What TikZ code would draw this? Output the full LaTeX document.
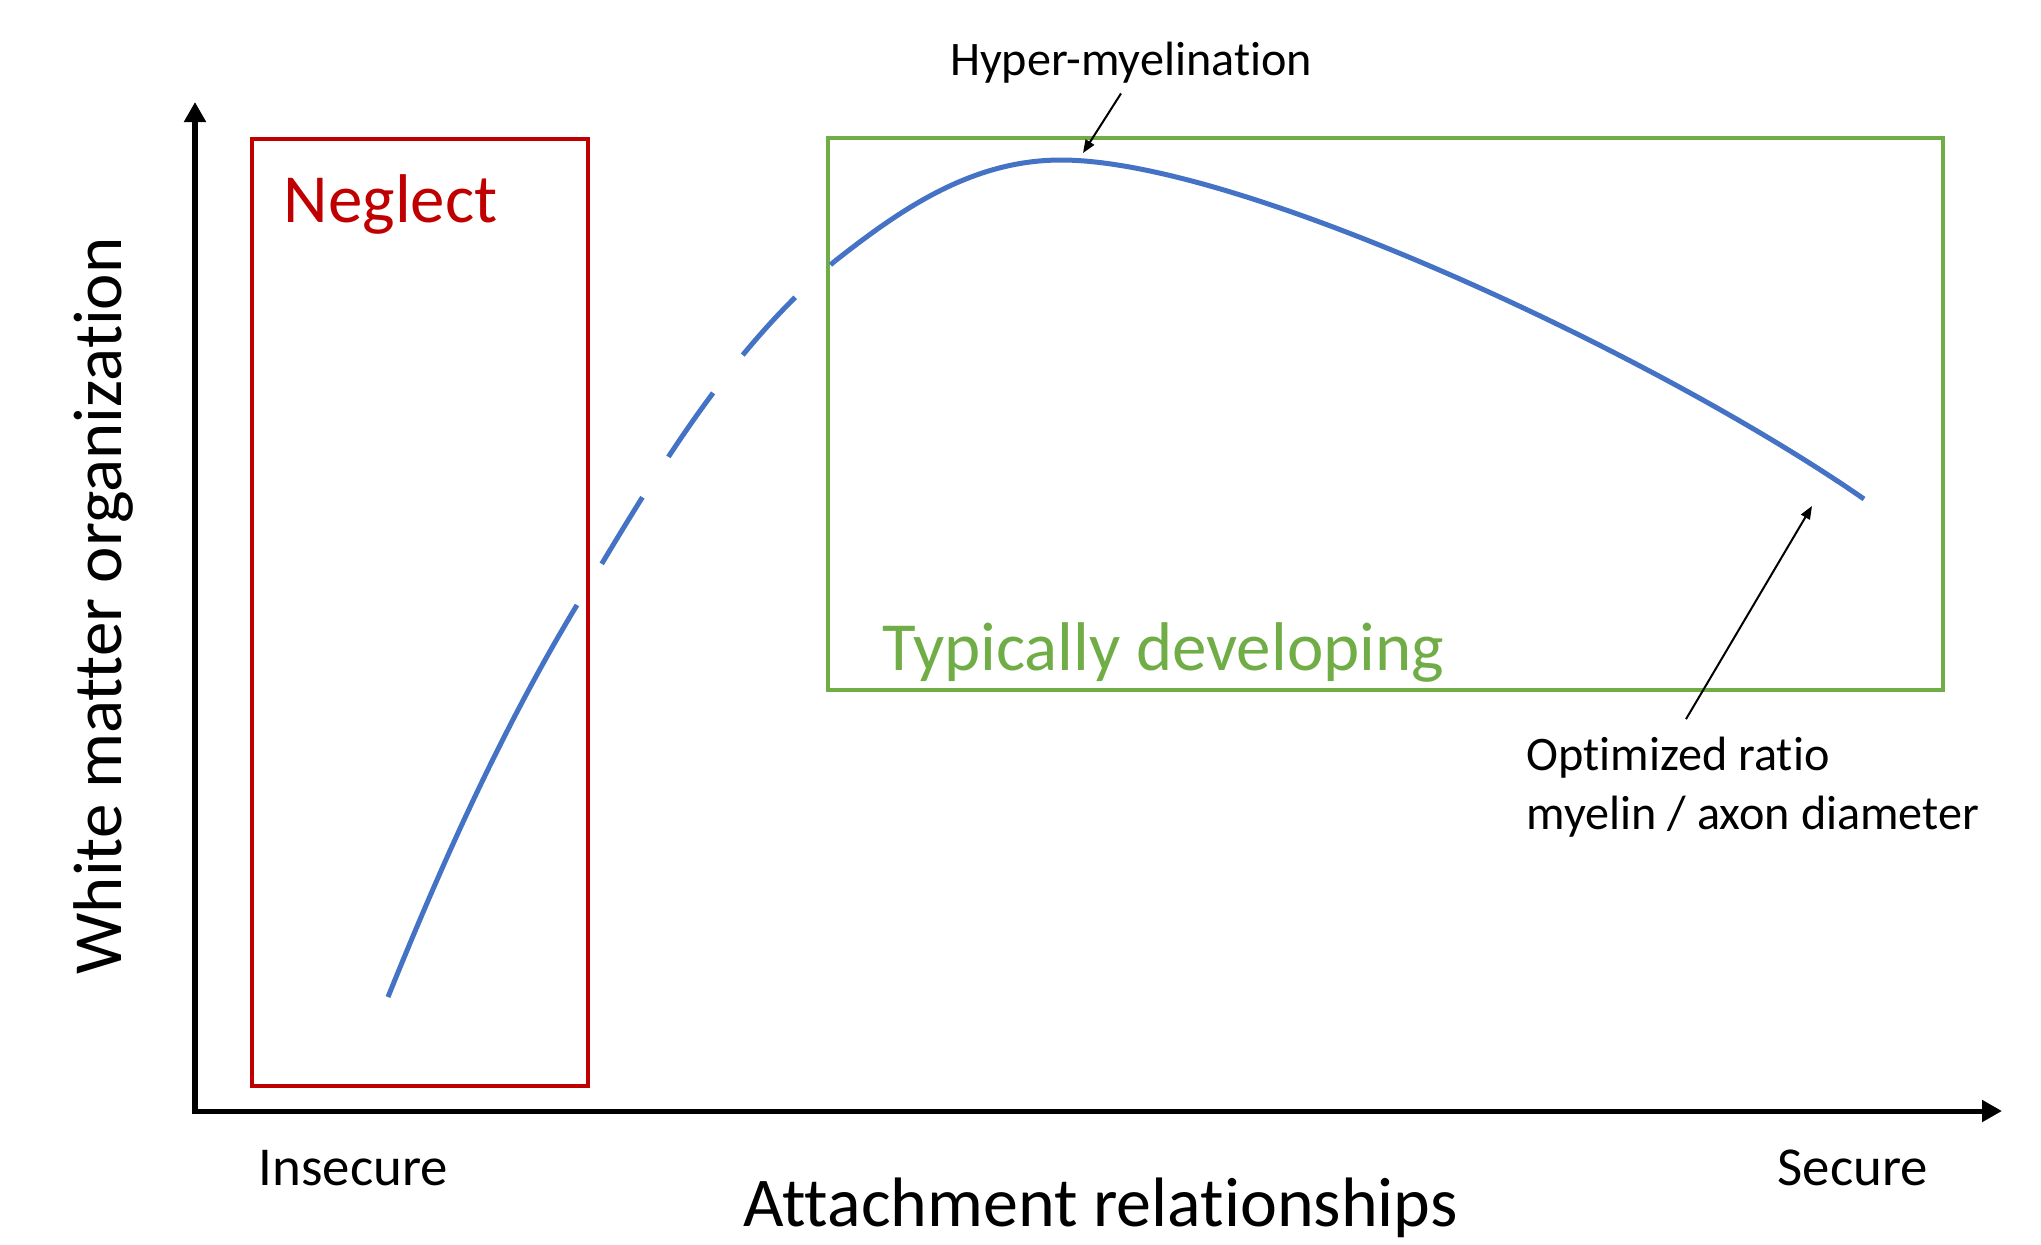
\documentclass[tikz,border=0pt]{standalone}
\usepackage{fontspec}
\setmainfont{Carlito}[Ligatures=NoCommon]
\usetikzlibrary{arrows.meta,calc}

\definecolor{neglectred}{HTML}{C00000}
\definecolor{typgreen}{HTML}{70AD47}
\definecolor{curveblue}{HTML}{4472C4}

\begin{document}
\begin{tikzpicture}[x=0.01cm, y=-0.01cm,
    bigtext/.style={inner sep=0, font=\fontsize{19.6}{23.5}\selectfont},
    ticktext/.style={inner sep=0, font=\fontsize{15.6}{18.7}\selectfont},
    notetext/.style={inner sep=0, font=\fontsize{13.7}{16.7}\selectfont, align=left},
    axisline/.style={line width=0.05cm, {Triangle[length=0.2cm,width=0.21cm]}-{Triangle[length=0.2cm,width=0.21cm]}},
    pointer/.style={line width=0.02cm, -{Triangle[length=0.13cm,width=0.1cm]}},
    bluecurve/.style={curveblue, line width=0.05cm},
    dashedpart/.style={dash pattern=on 0.78cm off 0.48cm, dash phase=0.78cm}]
    \useasboundingbox (0,0) rectangle (2041,1244);

    % axes
    \coordinate (ytop) at (195,102);
    \coordinate (origin) at (195,1111);
    \coordinate (xend) at (2002,1111);
    \draw [axisline] (ytop) -- (origin) -- (xend);

    % groups
    \draw [neglectred, line width=0.04cm] (252,139) rectangle (588,1086);
    \draw [typgreen, line width=0.035cm] (828,138) rectangle (1943,690);
    \node [bigtext, text=neglectred, anchor=base west] (neglect) at (283,222) {Neglect};
    \node [bigtext, text=typgreen, anchor=base west] (typical) at (882,670) {Typically developing};

    % curve
    \coordinate (c0) at (388,997);
    \coordinate (c1) at (577,605);
    \coordinate (c2) at (835,261);
    \coordinate (peak) at (1061,160);
    \coordinate (cend) at (1864,499);
    \draw [bluecurve] (c0) .. controls (442,863) and (502,729) .. (c1);
    \draw [bluecurve, dashedpart] (c1) .. controls (651,482) and (725,353) .. (c2);
    \draw [bluecurve] (c2) .. controls (900,210) and (971,160) .. (peak)
        .. controls (1241,160) and (1658,356) .. (cend);

    % notes
    \node [notetext, anchor=base] (hyp) at (1131,75) {Hyper-myelination};
    \coordinate (hyptip) at (1083,153);
    \draw [pointer] ($(hyp.south)+(-10,10)$) -- (hyptip);
    \node [notetext, anchor=base west] (opt) at (1526,829) {Optimized ratio\\myelin / axon diameter};
    \coordinate (opttip) at (1812,506);
    \draw [pointer] ($(opt.north west)+(160,-17)$) -- (opttip);

    % axis labels
    \node [ticktext, anchor=base west] (insecure) at (258,1185) {Insecure};
    \node [ticktext, anchor=base west] (secure) at (1777,1185) {Secure};
    \node [bigtext, font=\fontsize{19.9}{24}\selectfont, anchor=base west] (xlab) at (743,1226) {Attachment relationships};
    \node [bigtext, rotate=90, anchor=base] (ylab) at (121,606) {White matter organization};
\end{tikzpicture}
\end{document}
